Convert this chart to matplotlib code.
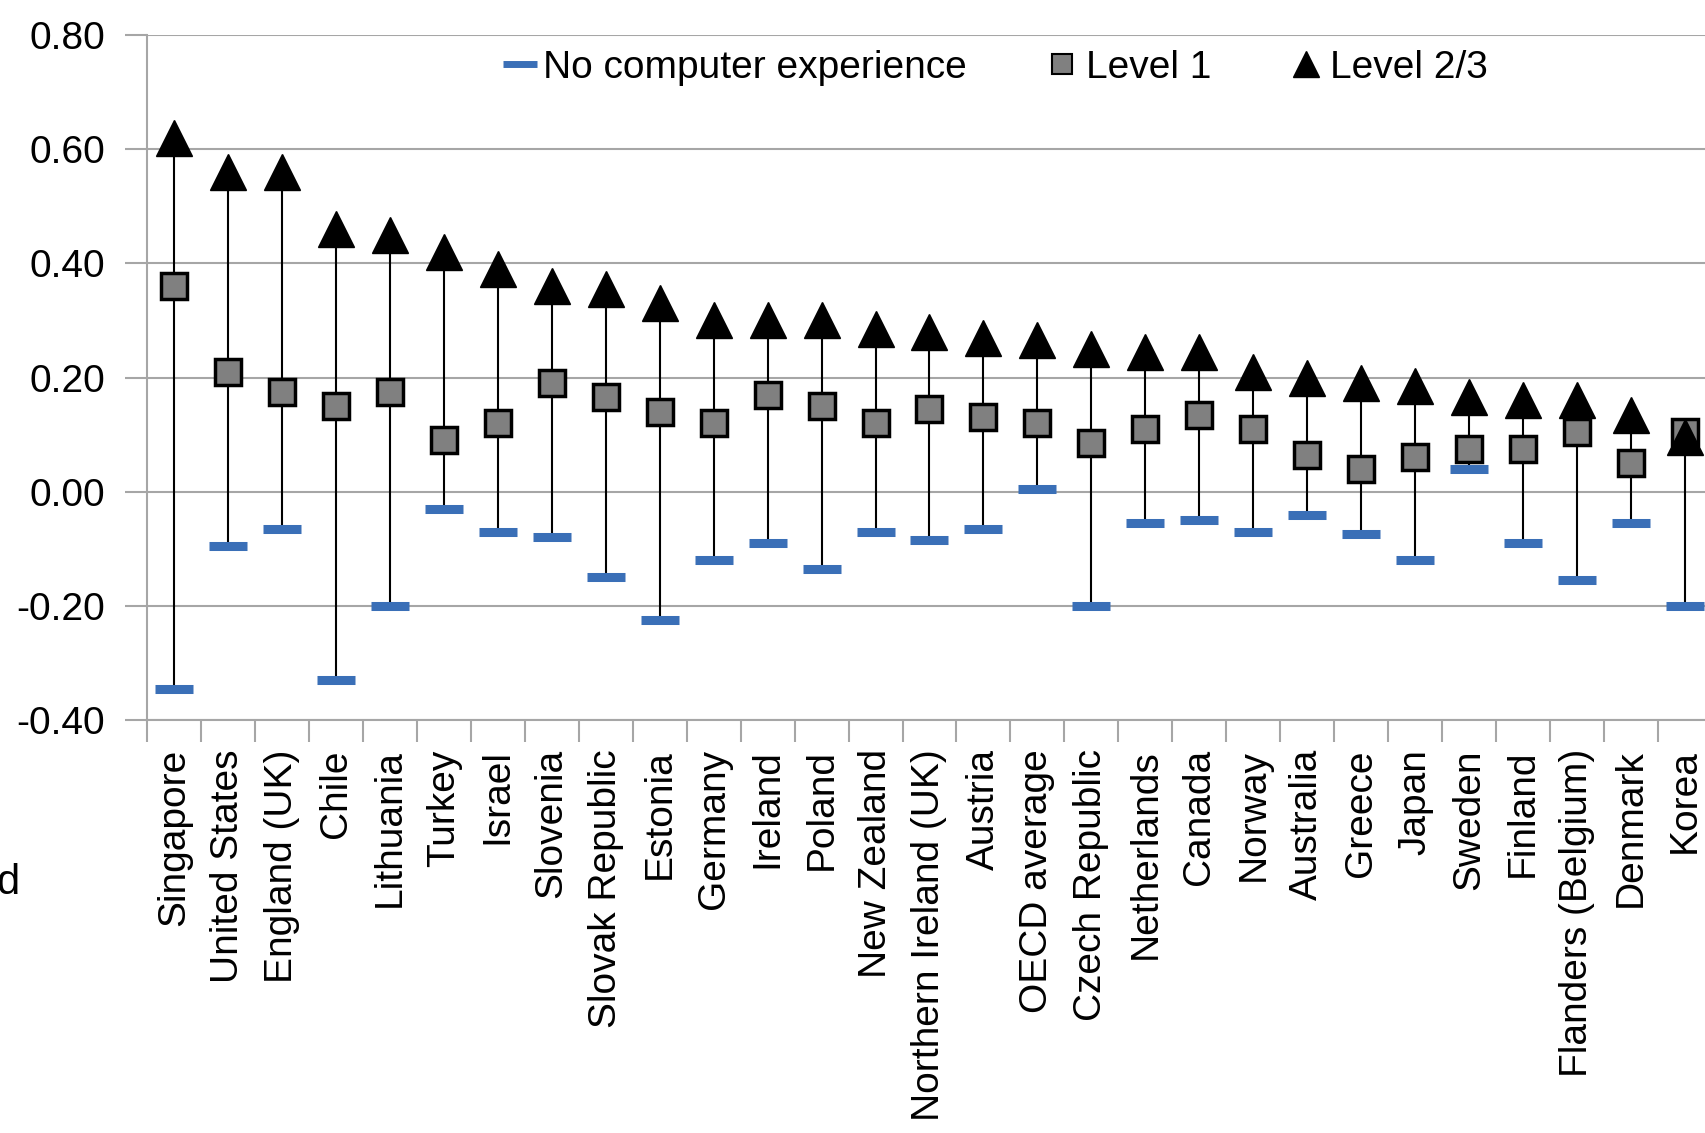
import numpy as np
import matplotlib
matplotlib.use("Agg")
import matplotlib.pyplot as plt
from matplotlib.lines import Line2D

plt.rcParams['font.family'] = ['Liberation Sans', 'DejaVu Sans']

countries = ['Singapore', 'United States', 'England (UK)', 'Chile', 'Lithuania',
             'Turkey', 'Israel', 'Slovenia', 'Slovak Republic', 'Estonia',
             'Germany', 'Ireland', 'Poland', 'New Zealand', 'Northern Ireland (UK)',
             'Austria', 'OECD average', 'Czech Republic', 'Netherlands', 'Canada',
             'Norway', 'Australia', 'Greece', 'Japan', 'Sweden', 'Finland',
             'Flanders (Belgium)', 'Denmark', 'Korea']

# No computer experience
no_computer = [-0.345, -0.095, -0.065, -0.33, -0.20, -0.03, -0.07, -0.08, -0.15, -0.225,
               -0.12, -0.09, -0.135, -0.07, -0.085, -0.065, 0.005, -0.20, -0.055, -0.05,
               -0.07, -0.04, -0.075, -0.12, 0.04, -0.09, -0.155, -0.055, -0.20]
# Level 1
level1 = [0.36, 0.21, 0.175, 0.15, 0.175, 0.09, 0.12, 0.19, 0.165, 0.14,
          0.12, 0.17, 0.15, 0.12, 0.145, 0.13, 0.12, 0.085, 0.11, 0.135,
          0.11, 0.065, 0.04, 0.06, 0.075, 0.075, 0.105, 0.05, 0.105]
# Level 2/3
level23 = [0.62, 0.56, 0.56, 0.46, 0.45, 0.42, 0.39, 0.36, 0.355, 0.33,
           0.30, 0.30, 0.30, 0.285, 0.28, 0.27, 0.265, 0.25, 0.245, 0.245,
           0.21, 0.20, 0.19, 0.185, 0.165, 0.16, 0.16, 0.135, 0.095]

y_ticks = [-0.40, -0.20, 0.00, 0.20, 0.40, 0.60, 0.80]

W, H = 1706, 1133
fig = plt.figure(figsize=(W / 100, H / 100), dpi=100)
left, right, top, bottom = 147, 1712, 35, 720
ax = fig.add_axes([left / W, 1 - bottom / H, (right - left) / W, (bottom - top) / H])

x = np.arange(len(countries))
lo = np.minimum(np.minimum(no_computer, level1), level23)
hi = np.maximum(np.maximum(no_computer, level1), level23)

grid_col = '#a6a6a6'
for v in y_ticks:
    ax.axhline(v, color=grid_col, lw=1.5, zorder=0)

ax.vlines(x, lo, hi, color='black', lw=1.5, zorder=2)
ax.plot(x, no_computer, ls='none', marker='_', ms=28, mew=6.5, color='#3a6fb7', zorder=3)
ax.plot(x, level1, ls='none', marker='s', ms=19, mfc='#808080', mec='black', mew=2.5, zorder=4)
ax.plot(x, level23, ls='none', marker='^', ms=26, color='black', zorder=5)

ax.set_xlim(-0.5, len(countries) - 0.5)
ax.set_ylim(-0.40, 0.80)

ax.set_yticks(y_ticks)
ax.set_yticklabels([f"{v:.2f}" for v in y_ticks], fontsize=28)
ax.tick_params(axis='y', length=16, width=1.5, color=grid_col, pad=14)

ax.set_xticks(x)
ax.set_xticklabels(countries, rotation=90, fontsize=28, va='top', ha='center')
ax.set_xticks(np.arange(-0.5, len(countries)), minor=True)
ax.tick_params(axis='x', which='major', length=0, pad=21)
ax.tick_params(axis='x', which='minor', length=16, width=1.5, color=grid_col)

for s in ['top', 'right']:
    ax.spines[s].set_visible(False)
for s in ['left', 'bottom']:
    ax.spines[s].set_color(grid_col)
    ax.spines[s].set_linewidth(1.5)

handles = [
    Line2D([], [], ls='none', marker='_', ms=24, mew=5, color='#3a6fb7'),
    Line2D([], [], ls='none', marker='s', ms=15, mfc='#808080', mec='black', mew=1.5),
    Line2D([], [], ls='none', marker='^', ms=19, color='black'),
]
labels = ['No computer experience', 'Level 1', 'Level 2/3']
fig.legend(handles, labels, loc='center', bbox_to_anchor=(995 / W, 1 - 68 / H),
           ncol=3, frameon=False, fontsize=28, handlelength=0.9, handletextpad=0.15,
           columnspacing=2.0)

# fragment of surrounding text at the left edge
fig.text(-0.002, 1 - 883 / H, 'd', ha='left', va='center', fontsize=30)

fig.savefig('out.png', dpi=100)
